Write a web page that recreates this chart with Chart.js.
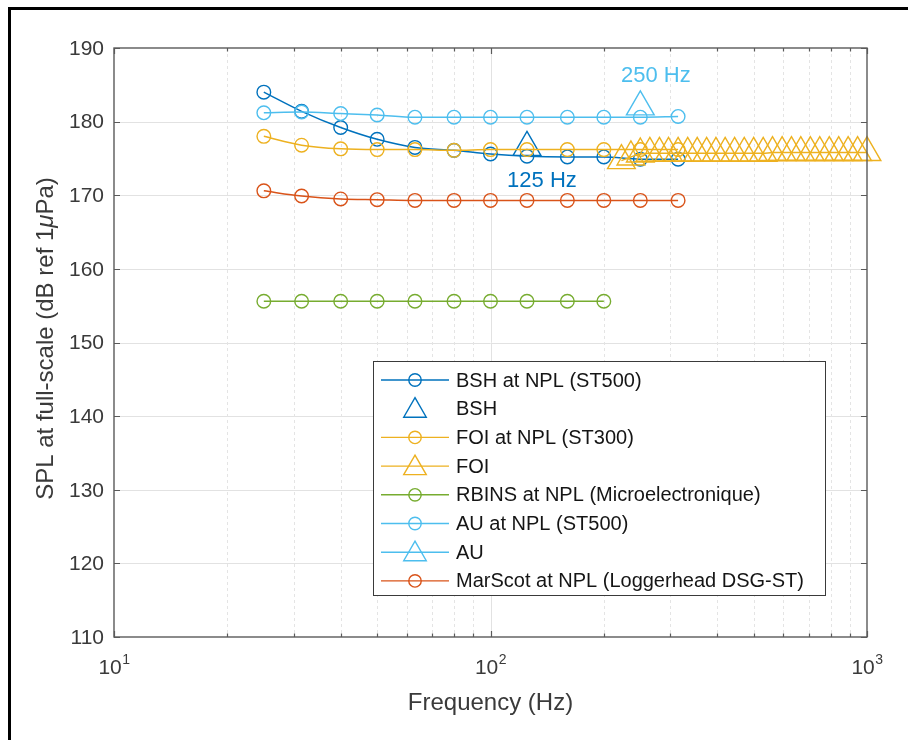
<!DOCTYPE html>
<html>
<head>
<meta charset="utf-8">
<script src="https://cdn.jsdelivr.net/npm/chart.js@4.4.1/dist/chart.umd.min.js"></script>
<style>
html,body{margin:0;padding:0;background:#fff;}
canvas{display:block;}
</style>
</head>
<body>
<canvas id="c" width="908" height="740"></canvas>
<script>
// ---------------- DATA ----------------
const thirdOctaveFreqs = [25, 31.5, 40, 50, 63, 80, 100, 125, 160, 200, 250, 315];
const rbinsFreqs = [25, 31.5, 40, 50, 63, 80, 100, 125, 160, 200];

const bshAtNpl    = [184.0, 181.4, 179.2, 177.6, 176.5, 176.1, 175.6, 175.3, 175.2, 175.2, 174.9, 174.9];
const foiAtNpl    = [178.0, 176.8, 176.3, 176.2, 176.2, 176.1, 176.2, 176.2, 176.2, 176.2, 176.2, 176.2];
const rbinsAtNpl  = [155.6, 155.6, 155.6, 155.6, 155.6, 155.6, 155.6, 155.6, 155.6, 155.6];
const auAtNpl     = [181.2, 181.3, 181.1, 180.9, 180.6, 180.6, 180.6, 180.6, 180.6, 180.6, 180.6, 180.7];
const marScotAtNpl= [170.6, 169.9, 169.5, 169.4, 169.3, 169.3, 169.3, 169.3, 169.3, 169.3, 169.3, 169.3];

const bshFreqs = [125];
const bshVals  = [176.5];
const auFreqs  = [250];
const auVals   = [182.0];

const foiFreqs = [222.7, 236, 250, 265, 281, 297, 315, 334, 354, 375, 397, 420, 445, 472,
                  500, 530, 561, 595, 630, 667, 707, 749, 794, 841, 891, 944, 1000];
const foiVals  = [174.7, 175.2, 175.6, 175.7, 175.7, 175.7, 175.7, 175.7, 175.7, 175.7, 175.7, 175.7, 175.7, 175.7,
                  175.7, 175.7, 175.8, 175.8, 175.8, 175.8, 175.8, 175.8, 175.8, 175.8, 175.8, 175.8, 175.8];

const yTicks = [110, 120, 130, 140, 150, 160, 170, 180, 190];
const xMajorTicks = [10, 100, 1000];
const xMajorExponents = ['1', '2', '3'];
const xMinorTicks = [20, 30, 40, 50, 60, 70, 80, 90, 200, 300, 400, 500, 600, 700, 800, 900];

const xAxisTitle = 'Frequency (Hz)';
const yAxisTitleParts = ['SPL at full-scale (dB ref 1', 'μ', 'Pa)'];

const annotationTexts = ['250 Hz', '125 Hz'];
const annotationFreqs = [275, 137];
const annotationLevels = [186.2, 172.0];

// ---------------- STYLE ----------------
const FONT = '"Liberation Sans", Arial, Helvetica, sans-serif';
const C_BLUE = '#0072BD', C_ORANGE = '#D95319', C_YELLOW = '#EDB120', C_GREEN = '#77AC30', C_CYAN = '#4DBEEE';

const seriesDefs = [
  {label: 'BSH at NPL (ST500)', freqs: thirdOctaveFreqs, vals: bshAtNpl, color: C_BLUE, marker: 'circle', line: true},
  {label: 'BSH', freqs: bshFreqs, vals: bshVals, color: C_BLUE, marker: 'triangle', line: false},
  {label: 'FOI at NPL (ST300)', freqs: thirdOctaveFreqs, vals: foiAtNpl, color: C_YELLOW, marker: 'circle', line: true},
  {label: 'FOI', freqs: foiFreqs, vals: foiVals, color: C_YELLOW, marker: 'triangle', line: true},
  {label: 'RBINS at NPL (Microelectronique)', freqs: rbinsFreqs, vals: rbinsAtNpl, color: C_GREEN, marker: 'circle', line: true},
  {label: 'AU at NPL (ST500)', freqs: thirdOctaveFreqs, vals: auAtNpl, color: C_CYAN, marker: 'circle', line: true},
  {label: 'AU', freqs: auFreqs, vals: auVals, color: C_CYAN, marker: 'triangle', line: true},
  {label: 'MarScot at NPL (Loggerhead DSG-ST)', freqs: thirdOctaveFreqs, vals: marScotAtNpl, color: C_ORANGE, marker: 'circle', line: true}
];
const annotationColors = [C_CYAN, C_BLUE];

const CIRCLE_R = 6.8, TRI_R = 16;

const datasets = seriesDefs.map((s, i) => ({
  label: s.label,
  data: s.freqs.map((f, k) => ({x: f, y: s.vals[k]})),
  borderColor: s.color,
  backgroundColor: 'rgba(0,0,0,0)',
  borderWidth: 1.5,
  showLine: s.line,
  pointStyle: s.marker,
  pointRadius: s.marker === 'circle' ? CIRCLE_R : TRI_R,
  pointBorderColor: s.color,
  pointBackgroundColor: 'rgba(0,0,0,0)',
  pointBorderWidth: 1.4,
  cubicInterpolationMode: 'monotone',
  order: -i,
  clip: false
}));

function drawMarker(ctx, type, x, y, r) {
  ctx.beginPath();
  if (type === 'circle') {
    ctx.arc(x, y, r, 0, Math.PI * 2);
  } else {
    ctx.moveTo(x, y - r);
    ctx.lineTo(x + 0.866 * r, y + 0.5 * r);
    ctx.lineTo(x - 0.866 * r, y + 0.5 * r);
    ctx.closePath();
  }
  ctx.stroke();
}

const matlabAxes = {
  id: 'matlabAxes',
  beforeDraw(chart) {
    const ctx = chart.ctx;
    ctx.save();
    ctx.fillStyle = '#ffffff';
    ctx.fillRect(0, 0, chart.width, chart.height);
    ctx.fillStyle = '#000000';
    ctx.fillRect(8, 7, 900, 3);
    ctx.fillRect(8, 7, 3, 733);
    ctx.restore();
  },
  beforeDatasetsDraw(chart) {
    const {ctx, chartArea: a, scales: {x, y}} = chart;
    ctx.save();
    ctx.lineWidth = 1;
    ctx.strokeStyle = '#e2e2e2';
    yTicks.forEach(v => {
      const py = Math.round(y.getPixelForValue(v)) + 0.5;
      if (py <= a.top + 1 || py >= a.bottom - 1) return;
      ctx.beginPath(); ctx.moveTo(a.left, py); ctx.lineTo(a.right, py); ctx.stroke();
    });
    xMajorTicks.forEach(v => {
      const px = Math.round(x.getPixelForValue(v)) + 0.5;
      if (px <= a.left + 1 || px >= a.right - 1) return;
      ctx.beginPath(); ctx.moveTo(px, a.top); ctx.lineTo(px, a.bottom); ctx.stroke();
    });
    ctx.strokeStyle = '#e4e4e4';
    ctx.setLineDash([3, 3]);
    xMinorTicks.forEach(v => {
      const px = Math.round(x.getPixelForValue(v)) + 0.5;
      ctx.beginPath(); ctx.moveTo(px, a.top); ctx.lineTo(px, a.bottom); ctx.stroke();
    });
    ctx.restore();
  },
  afterDatasetsDraw(chart) {
    const {ctx, chartArea: a, scales: {x, y}} = chart;
    ctx.save();
    ctx.strokeStyle = '#5a5a5a';
    ctx.lineWidth = 1.4;
    ctx.strokeRect(a.left, a.top, a.right - a.left, a.bottom - a.top);
    ctx.lineWidth = 1.2;
    ctx.beginPath();
    yTicks.forEach(v => {
      const py = Math.round(y.getPixelForValue(v)) + 0.5;
      ctx.moveTo(a.left, py); ctx.lineTo(a.left + 6, py);
      ctx.moveTo(a.right, py); ctx.lineTo(a.right - 6, py);
    });
    xMajorTicks.forEach(v => {
      const px = Math.round(x.getPixelForValue(v)) + 0.5;
      ctx.moveTo(px, a.bottom); ctx.lineTo(px, a.bottom - 6);
      ctx.moveTo(px, a.top); ctx.lineTo(px, a.top + 6);
    });
    xMinorTicks.forEach(v => {
      const px = Math.round(x.getPixelForValue(v)) + 0.5;
      ctx.moveTo(px, a.bottom); ctx.lineTo(px, a.bottom - 3.5);
      ctx.moveTo(px, a.top); ctx.lineTo(px, a.top + 3.5);
    });
    ctx.stroke();

    ctx.fillStyle = '#3a3a3a';
    ctx.font = '21px ' + FONT;
    ctx.textAlign = 'right';
    ctx.textBaseline = 'middle';
    yTicks.forEach(v => ctx.fillText(String(v), a.left - 10, y.getPixelForValue(v) + 1));

    ctx.textAlign = 'left';
    ctx.textBaseline = 'alphabetic';
    xMajorTicks.forEach((v, i) => {
      const px = x.getPixelForValue(v);
      ctx.font = '21px ' + FONT;
      const w1 = ctx.measureText('10').width;
      ctx.font = '14px ' + FONT;
      const w2 = ctx.measureText(xMajorExponents[i]).width;
      const start = px - (w1 + w2) / 2;
      ctx.font = '21px ' + FONT;
      ctx.fillText('10', start, a.bottom + 37);
      ctx.font = '14px ' + FONT;
      ctx.fillText(xMajorExponents[i], start + w1 + 0.5, a.bottom + 27);
    });

    ctx.font = '24px ' + FONT;
    ctx.textAlign = 'center';
    ctx.textBaseline = 'middle';
    ctx.fillText(xAxisTitle, (a.left + a.right) / 2, a.bottom + 66);

    ctx.save();
    ctx.translate(46, (a.top + a.bottom) / 2 - 4);
    ctx.rotate(-Math.PI / 2);
    ctx.textAlign = 'left';
    const fN = '24px ' + FONT, fI = 'italic 24px ' + FONT;
    ctx.font = fN; const p0 = ctx.measureText(yAxisTitleParts[0]).width;
    ctx.font = fI; const p1 = ctx.measureText(yAxisTitleParts[1]).width;
    ctx.font = fN; const p2 = ctx.measureText(yAxisTitleParts[2]).width;
    let sx = -(p0 + p1 + p2) / 2;
    ctx.font = fN; ctx.fillText(yAxisTitleParts[0], sx, 0); sx += p0;
    ctx.font = fI; ctx.fillText(yAxisTitleParts[1], sx, 0); sx += p1;
    ctx.font = fN; ctx.fillText(yAxisTitleParts[2], sx, 0);
    ctx.restore();

    ctx.font = '22px ' + FONT;
    ctx.textAlign = 'center';
    ctx.textBaseline = 'middle';
    annotationTexts.forEach((t, i) => {
      ctx.fillStyle = annotationColors[i];
      ctx.fillText(t, x.getPixelForValue(annotationFreqs[i]), y.getPixelForValue(annotationLevels[i]));
    });

    const L = {left: 373, top: 361, right: 825, bottom: 595};
    ctx.fillStyle = '#ffffff';
    ctx.fillRect(L.left, L.top, L.right - L.left, L.bottom - L.top);
    ctx.strokeStyle = '#3a3a3a';
    ctx.lineWidth = 1;
    ctx.strokeRect(L.left + 0.5, L.top + 0.5, L.right - L.left, L.bottom - L.top);
    ctx.font = '20px ' + FONT;
    ctx.textAlign = 'left';
    ctx.textBaseline = 'middle';
    seriesDefs.forEach((s, i) => {
      const ry = 380 + i * 28.7;
      ctx.strokeStyle = s.color;
      ctx.lineWidth = 1.4;
      if (s.line) {
        ctx.beginPath(); ctx.moveTo(381, ry); ctx.lineTo(449, ry); ctx.stroke();
      }
      if (s.marker === 'circle') drawMarker(ctx, 'circle', 415, ry, 6.2);
      else drawMarker(ctx, 'triangle', 415, ry + 2, 13);
      ctx.fillStyle = '#151515';
      ctx.fillText(s.label, 456, ry + 1);
    });
    ctx.restore();
  }
};

new Chart(document.getElementById('c'), {
  type: 'line',
  data: {datasets},
  options: {
    responsive: false,
    animation: false,
    devicePixelRatio: 1,
    events: [],
    layout: {padding: {left: 114, top: 48, right: 41, bottom: 103}},
    scales: {
      x: {type: 'logarithmic', min: 10, max: 1000, display: false},
      y: {type: 'linear', min: 110, max: 190, display: false}
    },
    plugins: {legend: {display: false}, tooltip: {enabled: false}}
  },
  plugins: [matlabAxes]
});
</script>
</body>
</html>
